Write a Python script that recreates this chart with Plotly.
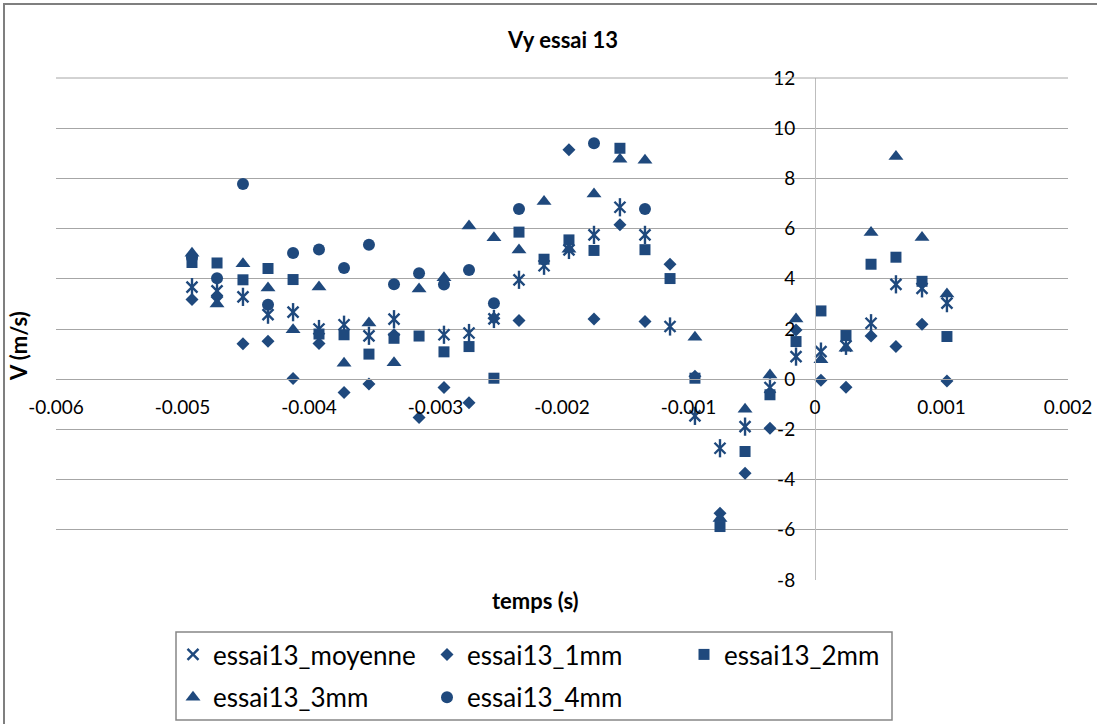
import plotly.graph_objects as go

# time samples (s)
temps = [-0.004925, -0.004727, -0.004522, -0.004324, -0.004126, -0.003921,
         -0.003723, -0.003526, -0.003328, -0.003130, -0.002933, -0.002735,
         -0.002538, -0.002340, -0.002142, -0.001945, -0.001747, -0.001542,
         -0.001344, -0.001146, -0.000949, -0.000751, -0.000553, -0.000356,
         -0.000150, 0.000047, 0.000245, 0.000443, 0.000640, 0.000846, 0.001043]

# vertical velocity Vy (m/s) per series
essai13_moyenne = [3.67, 3.52, 3.28, 2.57, 2.67, 2.0, 2.17, 1.73, 2.39, None,
                   1.77, 1.84, 2.4, 3.96, 4.52, 5.15, 5.75, 6.85, 5.75, 2.1,
                   -1.46, -2.75, -1.89, -0.33, 0.9, 1.1, 1.33, 2.23, 3.78, 3.62, 3.03]
essai13_1mm = [3.18, 3.27, 1.41, 1.51, 0.03, 1.42, -0.53, -0.19, 1.77, -1.53,
               -0.33, -0.94, 2.43, 2.34, None, 9.14, 2.4, 6.15, 2.3, 4.58,
               0.12, -5.34, -3.75, -1.95, 1.96, -0.04, -0.32, 1.72, 1.3, 2.19, -0.07]
essai13_2mm = [4.65, 4.63, 3.96, 4.41, 3.97, 1.8, 1.77, 1.0, 1.63, 1.72,
               1.09, 1.3, 0.04, 5.86, 4.78, 5.55, 5.13, 9.2, 5.16, 4.01,
               0.04, -5.87, -2.88, -0.62, 1.5, 2.72, 1.74, 4.58, 4.86, 3.9, 1.7]
essai13_3mm = [5.02, 3.0, 4.6, 3.63, 1.97, 3.67, 0.64, 2.24, 0.66, 3.59,
               4.04, 6.1, 5.64, 5.15, 7.08, 5.18, 7.38, 8.76, 8.72, None,
               1.67, -5.55, -1.2, 0.17, 2.4, 0.77, 1.23, 5.84, 8.87, 5.65, 3.39]
essai13_4mm = [4.85, 4.02, 7.78, 2.97, 5.03, 5.17, 4.43, 5.36, 3.78, 4.22,
               3.77, 4.35, 3.03, 6.78, None, None, 9.4, None, 6.78, None,
               None, None, None, None, None, None, None, None, None, None, None]

x_tickvals = [-0.006, -0.005, -0.004, -0.003, -0.002, -0.001, 0, 0.001, 0.002]
x_ticktext = ["-0.006", "-0.005", "-0.004", "-0.003", "-0.002", "-0.001", "0", "0.001", "0.002"]
y_tickvals = [12, 10, 8, 6, 4, 2, 0, -2, -4, -6, -8]
y_ticktext = ["12", "10", "8", "6", "4", "2", "0", "-2", "-4", "-6", "-8"]

W, H = 1097, 724
BLUE = "#1F497D"
GRID = "#a6a6a6"
FONT = "Lato"

# plot area in pixels
PL, PR, PT, PB = 56, 1068, 78, 580
xdom = [PL / W, PR / W]
ydom = [(H - PB) / H, (H - PT) / H]
x_at0 = xdom[0] + (0 - (-0.006)) / 0.008 * (xdom[1] - xdom[0])
y_at0 = ydom[0] + (0 - (-8)) / 20 * (ydom[1] - ydom[0])

fig = go.Figure()

fig.add_trace(go.Scatter(
    x=temps, y=essai13_moyenne, mode="markers", name="essai13_moyenne",
    legend="legend", legendgroup="moy",
    marker=dict(symbol="x-thin-open", size=11, color=BLUE,
                line=dict(color=BLUE, width=2.4))))
fig.add_trace(go.Scatter(
    x=temps, y=essai13_moyenne, mode="markers", showlegend=False,
    legendgroup="moy", hoverinfo="skip",
    marker=dict(symbol="line-ns-open", size=13, color=BLUE,
                line=dict(color=BLUE, width=2.4))))
fig.add_trace(go.Scatter(
    x=temps, y=essai13_1mm, mode="markers", name="essai13_1mm",
    legend="legend2", legendgroup="g1",
    marker=dict(symbol="diamond", size=10, color=BLUE)))
fig.add_trace(go.Scatter(
    x=temps, y=essai13_2mm, mode="markers", name="essai13_2mm",
    legend="legend3", legendgroup="g2",
    marker=dict(symbol="square", size=11, color=BLUE)))
fig.add_trace(go.Scatter(
    x=temps, y=essai13_3mm, mode="markers", name="essai13_3mm",
    legend="legend", legendgroup="g3",
    marker=dict(symbol="triangle-up", size=13, color=BLUE)))
fig.add_trace(go.Scatter(
    x=temps, y=essai13_4mm, mode="markers", name="essai13_4mm",
    legend="legend2", legendgroup="g4",
    marker=dict(symbol="circle", size=12, color=BLUE)))

legend_common = dict(
    orientation="v", xanchor="left", yanchor="top",
    bgcolor="rgba(0,0,0,0)", borderwidth=0,
    font=dict(family=FONT, size=26, color="black"),
    tracegroupgap=6, itemsizing="trace",
)
legend_top = 1 - 631 / H

fig.update_layout(
    width=W, height=H,
    margin=dict(l=0, r=0, t=0, b=0, autoexpand=False),
    paper_bgcolor="white", plot_bgcolor="rgba(0,0,0,0)",
    title=dict(text="<b>Vy essai 13</b>", x=563 / W, y=1 - 40 / H,
               xanchor="center", yanchor="middle",
               font=dict(family=FONT, size=22, color="black")),
    xaxis=dict(domain=xdom, range=[-0.006, 0.002], anchor="free", position=y_at0,
               tickvals=x_tickvals, ticktext=x_ticktext, showgrid=False,
               zeroline=False, showline=True, linecolor=GRID, linewidth=1,
               ticks="", ticklabelstandoff=11,
               tickfont=dict(family=FONT, size=19, color="black")),
    yaxis=dict(domain=ydom, range=[-8, 12], anchor="free", position=x_at0,
               tickvals=y_tickvals, ticktext=y_ticktext, showgrid=True,
               gridcolor=GRID, gridwidth=1, zeroline=False,
               showline=True, linecolor="#bdbdbd", linewidth=1, ticks="",
               ticklabelstandoff=16,
               tickfont=dict(family=FONT, size=19, color="black")),
    legend=dict(x=173 / W, y=legend_top, **legend_common),
    legend2=dict(x=427 / W, y=legend_top, **legend_common),
    legend3=dict(x=684 / W, y=legend_top, **legend_common),
    showlegend=True,
    annotations=[
        dict(text="<b>temps (s)</b>", x=535 / W, y=1 - 600 / H, xref="paper", yref="paper",
             xanchor="center", yanchor="middle", showarrow=False,
             font=dict(family=FONT, size=22, color="black")),
        dict(text="<b>V (m/s)</b>", x=18 / W, y=1 - 346 / H, xref="paper", yref="paper",
             xanchor="center", yanchor="middle", showarrow=False, textangle=-90,
             font=dict(family=FONT, size=22, color="black")),
    ],
    shapes=[
        # top grid line at the upper bound
        dict(type="line", xref="paper", yref="paper", x0=xdom[0], x1=xdom[1],
             y0=ydom[1], y1=ydom[1], line=dict(color=GRID, width=1)),
        # chart frame
        dict(type="rect", xref="paper", yref="paper", x0=4 / W, x1=1.02,
             y0=-0.02, y1=1 - 4 / H, line=dict(color="#7f7f7f", width=2)),
        # legend frame
        dict(type="rect", xref="paper", yref="paper", x0=176 / W, x1=892 / W,
             y0=1 - 720 / H, y1=1 - 632 / H, line=dict(color="#868686", width=1.5)),
    ],
)

fig.write_html("out.html")
